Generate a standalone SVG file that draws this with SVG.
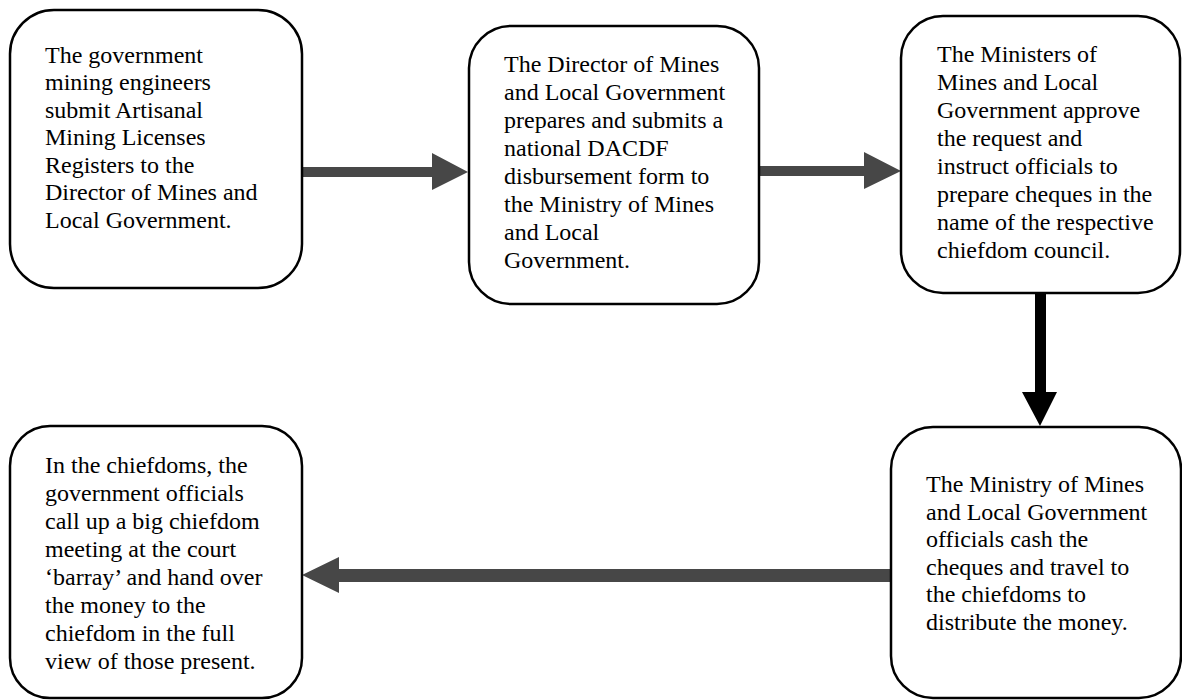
<svg xmlns="http://www.w3.org/2000/svg" width="1182" height="700" viewBox="0 0 1182 700">
<style>
.box{fill:#fff;stroke:#000;stroke-width:2.5}
.t{font-family:"Liberation Serif","Times New Roman",serif;font-size:24px;fill:#000}
.gray{fill:#474747}
.blk{fill:#000}
</style>
<rect width="1182" height="700" fill="#fff"/>
<g id="connectors">
<polygon class="gray" points="302,167 432,167 432,153 468,172 432,190 432,177 302,177"/>
<polygon class="gray" points="759,166 864,166 864,152 901,171 864,189 864,176 759,176"/>
<polygon class="blk" points="1035,293 1046,293 1046,392 1057,392 1040,426 1022,392 1035,392"/>
<polygon class="gray" points="891,569 339,569 339,557 302,575 339,593 339,582 891,582"/>
</g>
<g id="n1">
<rect class="box" x="10" y="10" width="292" height="278" rx="44"/>
<text class="t" x="45" y="62.5">The government</text>
<text class="t" x="45" y="90">mining engineers</text>
<text class="t" x="45" y="117.5">submit Artisanal</text>
<text class="t" x="45" y="145">Mining Licenses</text>
<text class="t" x="45" y="172.5">Registers to the</text>
<text class="t" x="45" y="200">Director of Mines and</text>
<text class="t" x="45" y="227.5">Local Government.</text>
</g>
<g id="n2">
<rect class="box" x="469" y="26" width="290" height="278" rx="42"/>
<text class="t" x="504" y="72">The Director of Mines</text>
<text class="t" x="504" y="100">and Local Government</text>
<text class="t" x="504" y="128">prepares and submits a</text>
<text class="t" x="504" y="156">national DACDF</text>
<text class="t" x="504" y="184">disbursement form to</text>
<text class="t" x="504" y="212">the Ministry of Mines</text>
<text class="t" x="504" y="240">and Local</text>
<text class="t" x="504" y="268">Government.</text>
</g>
<g id="n3">
<rect class="box" x="901" y="16" width="279" height="277" rx="42"/>
<text class="t" x="937" y="62">The Ministers of</text>
<text class="t" x="937" y="90">Mines and Local</text>
<text class="t" x="937" y="118">Government approve</text>
<text class="t" x="937" y="146">the request and</text>
<text class="t" x="937" y="174">instruct officials to</text>
<text class="t" x="937" y="202">prepare cheques in the</text>
<text class="t" x="937" y="230">name of the respective</text>
<text class="t" x="937" y="258">chiefdom council.</text>
</g>
<g id="n4">
<rect class="box" x="891" y="427" width="290" height="271" rx="42"/>
<text class="t" x="926" y="492">The Ministry of Mines</text>
<text class="t" x="926" y="519.5">and Local Government</text>
<text class="t" x="926" y="547">officials cash the</text>
<text class="t" x="926" y="574.5">cheques and travel to</text>
<text class="t" x="926" y="602">the chiefdoms to</text>
<text class="t" x="926" y="629.5">distribute the money.</text>
</g>
<g id="n5">
<rect class="box" x="10" y="426" width="292" height="272" rx="40"/>
<text class="t" x="45" y="473">In the chiefdoms, the</text>
<text class="t" x="45" y="501">government officials</text>
<text class="t" x="45" y="529">call up a big chiefdom</text>
<text class="t" x="45" y="557">meeting at the court</text>
<text class="t" x="45" y="585">‘barray’ and hand over</text>
<text class="t" x="45" y="613">the money to the</text>
<text class="t" x="45" y="641">chiefdom in the full</text>
<text class="t" x="45" y="669">view of those present.</text>
</g>
</svg>
